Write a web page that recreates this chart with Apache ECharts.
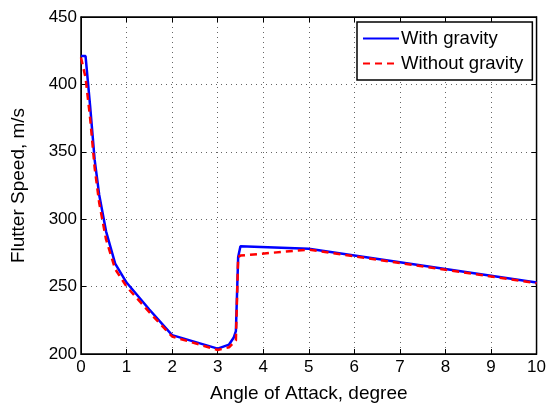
<!DOCTYPE html>
<html>
<head>
<meta charset="utf-8">
<script src="https://cdn.jsdelivr.net/npm/echarts@6/dist/echarts.min.js"></script>
<style>html,body{margin:0;padding:0;background:#fff}#c{width:549px;height:408px}</style>
</head>
<body>
<div id="c"></div>
<script>
var withAoA = [0, 0.1, 0.2, 0.3, 0.4, 0.55, 0.75, 1, 1.5, 2, 3, 3.25, 3.35, 3.4, 3.45, 3.5, 5, 6, 7, 8, 9, 10];
var withSpeed = [421, 421, 384, 344, 318, 291, 267, 253, 233, 214, 204, 207, 212, 217, 272, 280, 278, 273, 268, 263, 258, 253];
var withoutAoA = [0, 0.1, 0.2, 0.3, 0.4, 0.55, 0.75, 1, 1.5, 2, 3, 3.25, 3.4, 3.45, 3.5, 5, 6, 7, 8, 9, 10];
var withoutSpeed = [420, 405, 375, 338, 312, 285, 263, 250, 231, 213, 203, 205, 210, 272, 273, 277.5, 272.5, 267.5, 262.5, 257.5, 252.5];
var xTicks = [0, 1, 2, 3, 4, 5, 6, 7, 8, 9, 10];
var yTicks = [200, 250, 300, 350, 400, 450];
var seriesNames = ['With gravity', 'Without gravity'];

function pairs(xs, ys) { return xs.map(function (x, i) { return [x, ys[i]]; }); }

var font = 'Liberation Sans, Arial, Helvetica, sans-serif';
var chart = echarts.init(document.getElementById('c'), null, { renderer: 'canvas' });
var axisCommon = {
  axisLine: { show: true, onZero: false, lineStyle: { color: '#000', width: 1 } },
  axisTick: { show: true, inside: true, length: 5, lineStyle: { color: '#000' } },
  splitLine: { show: false }
};
chart.setOption({
  animation: false,
  backgroundColor: '#fff',
  grid: { left: 81, top: 17, width: 459, height: 338, show: true, borderColor: '#000', borderWidth: 1.5, backgroundColor: 'transparent' },
  xAxis: [
    Object.assign({}, axisCommon, {
      type: 'value', min: xTicks[0], max: xTicks[xTicks.length - 1], interval: 1, position: 'bottom',
      name: 'Angle of Attack, degree', nameLocation: 'middle', nameGap: 30,
      nameTextStyle: { fontFamily: font, fontSize: 19, color: '#000' },
      axisLabel: { fontFamily: font, fontSize: 17, color: '#000', margin: 5 },
      splitLine: { show: true, lineStyle: { color: '#666', type: [1, 4], width: 1 } }
    }),
    Object.assign({}, axisCommon, {
      type: 'value', min: xTicks[0], max: xTicks[xTicks.length - 1], interval: 1, position: 'top',
      axisLabel: { show: false }
    })
  ],
  yAxis: [
    Object.assign({}, axisCommon, {
      type: 'value', min: yTicks[0], max: yTicks[yTicks.length - 1], interval: 50, position: 'left',
      name: 'Flutter Speed, m/s', nameLocation: 'middle', nameGap: 53,
      nameTextStyle: { fontFamily: font, fontSize: 19, color: '#000' },
      axisLabel: { fontFamily: font, fontSize: 17, color: '#000', margin: 4 },
      splitLine: { show: true, lineStyle: { color: '#666', type: [1, 4], width: 1 } }
    }),
    Object.assign({}, axisCommon, {
      type: 'value', min: yTicks[0], max: yTicks[yTicks.length - 1], interval: 50, position: 'right',
      axisLabel: { show: false }
    })
  ],
  legend: {
    orient: 'vertical', left: 357, top: 22, itemWidth: 36, itemHeight: 14, itemGap: 6,
    padding: [7, 9, 7, 5], borderColor: '#000', borderWidth: 1.5, backgroundColor: '#fff',
    itemStyle: { opacity: 0 },
    textStyle: { fontFamily: font, fontSize: 18.5, color: '#000', padding: [0, 0, 0, -3] },
    data: seriesNames
  },
  series: [
    {
      name: seriesNames[0], type: 'line', data: pairs(withAoA, withSpeed), symbol: 'none',
      lineStyle: { color: '#0000ff', width: 2.5 }, itemStyle: { color: '#0000ff' }, z: 2
    },
    {
      name: seriesNames[1], type: 'line', data: pairs(withoutAoA, withoutSpeed), symbol: 'none',
      lineStyle: { color: '#ff0000', width: 2.5, type: [7, 5] }, itemStyle: { color: '#ff0000' }, z: 3
    }
  ]
});
</script>
</body>
</html>
